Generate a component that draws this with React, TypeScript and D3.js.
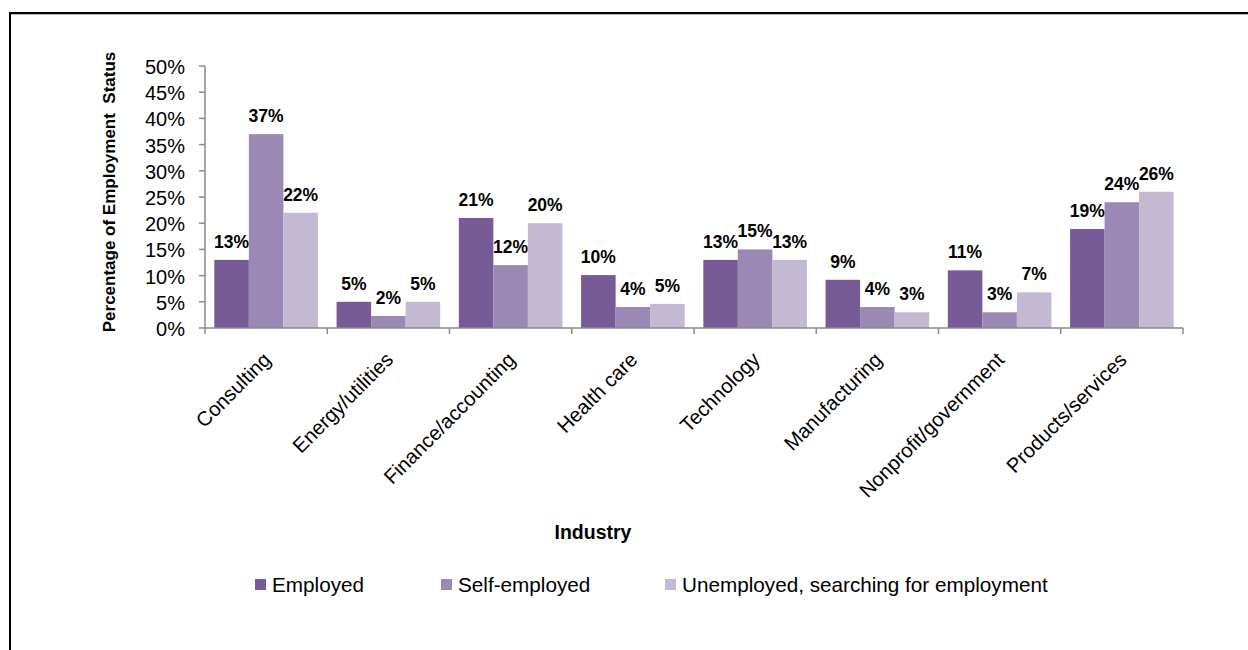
import React from "react";
import * as d3 from "d3";

const categories = [
  "Consulting",
  "Energy/utilities",
  "Finance/accounting",
  "Health care",
  "Technology",
  "Manufacturing",
  "Nonprofit/government",
  "Products/services",
];
const seriesNames = ["Employed", "Self-employed", "Unemployed, searching for employment"];
const employed = [13, 5, 21, 10.1, 13, 9.2, 11, 18.9];
const selfEmployed = [37, 2.3, 12, 4, 15, 4, 3, 24];
const unemployed = [22, 5, 20, 4.6, 13, 3, 6.8, 26];
const yTicks = [0, 5, 10, 15, 20, 25, 30, 35, 40, 45, 50];
const colors = ["#775b97", "#9b88b4", "#c3b9d3"];

const W = 1248;
const H = 650;
const FONT = "'Liberation Sans', Arial, sans-serif";

export default function App() {
  const series = [employed, selfEmployed, unemployed];
  const x0 = d3.scaleBand().domain(categories).range([205, 1183]).paddingInner(0).paddingOuter(0);
  const x1 = d3
    .scaleBand()
    .domain(seriesNames)
    .range([0, x0.bandwidth()])
    .paddingInner(0)
    .paddingOuter(0.27);
  const y = d3.scaleLinear().domain([0, 50]).range([328, 66]);
  const axisColor = "#8a8a8a";
  const boundaries = d3.range(categories.length + 1).map((i) => 205 + i * x0.step());
  const legendSq = [255, 441, 665];

  return (
    <svg
      width={W}
      height={H}
      style={{ position: "absolute", left: 0, top: 0, background: "#fff" }}
      fontFamily={FONT}
    >
      <rect x={0} y={0} width={W} height={H} fill="#fff" />
      {/* frame */}
      <line x1={10} y1={13} x2={W} y2={13} stroke="#000" strokeWidth={2} />
      <line x1={10} y1={14.5} x2={W} y2={14.5} stroke="#bbb" strokeWidth={1} />
      <line x1={10} y1={12} x2={10} y2={H} stroke="#000" strokeWidth={2} />

      {/* bars */}
      {categories.map((c, i) => (
        <g key={c} transform={`translate(${x0(c)},0)`}>
          {series.map((s, j) => (
            <rect
              key={j}
              x={x1(seriesNames[j])}
              y={y(s[i])}
              width={x1.bandwidth()}
              height={y(0) - y(s[i])}
              fill={colors[j]}
            />
          ))}
          {series.map((s, j) => (
            <text
              key={"l" + j}
              x={(x1(seriesNames[j]) as number) + x1.bandwidth() / 2}
              y={y(s[i]) - 12}
              textAnchor="middle"
              fontWeight="bold"
              fontSize={17.5}
              fill="#000"
            >
              {Math.round(s[i]) + "%"}
            </text>
          ))}
        </g>
      ))}

      {/* y axis */}
      <line x1={205} y1={y(50)} x2={205} y2={y(0)} stroke={axisColor} strokeWidth={1.5} />
      {yTicks.map((t) => (
        <g key={t}>
          <line x1={199} x2={205} y1={y(t)} y2={y(t)} stroke={axisColor} strokeWidth={1.5} />
          <text
            x={185}
            y={y(t) + 1}
            textAnchor="end"
            dominantBaseline="central"
            fontSize={20}
            fill="#000"
          >
            {t + "%"}
          </text>
        </g>
      ))}

      {/* x axis */}
      <line x1={205} y1={y(0)} x2={1183} y2={y(0)} stroke={axisColor} strokeWidth={1.5} />
      {boundaries.map((b, i) => (
        <line key={i} x1={b} x2={b} y1={y(0)} y2={y(0) + 6} stroke={axisColor} strokeWidth={1.5} />
      ))}
      {categories.map((c) => {
        const cx = (x0(c) as number) + x0.bandwidth() / 2 + 1;
        const cy = 356;
        return (
          <text
            key={c}
            x={cx}
            y={cy}
            textAnchor="end"
            dominantBaseline="central"
            fontSize={20.3}
            fill="#000"
            transform={`rotate(-45, ${cx}, ${cy})`}
          >
            {c}
          </text>
        );
      })}

      {/* axis titles */}
      <text x={593} y={539} textAnchor="middle" fontWeight="bold" fontSize={19.5} fill="#000">
        Industry
      </text>
      <text
        x={0}
        y={0}
        transform={`translate(115, 192) rotate(-90)`}
        textAnchor="middle"
        fontWeight="bold"
        fontSize={17}
        fill="#000"
        style={{ whiteSpace: "pre" }}
      >
        {"Percentage of Employment  Status"}
      </text>

      {/* legend */}
      {seriesNames.map((n, j) => (
        <g key={n}>
          <rect x={legendSq[j]} y={579} width={11} height={11} fill={colors[j]} />
          <text x={legendSq[j] + 17} y={592} fontSize={20.7} fill="#000">
            {n}
          </text>
        </g>
      ))}
    </svg>
  );
}
